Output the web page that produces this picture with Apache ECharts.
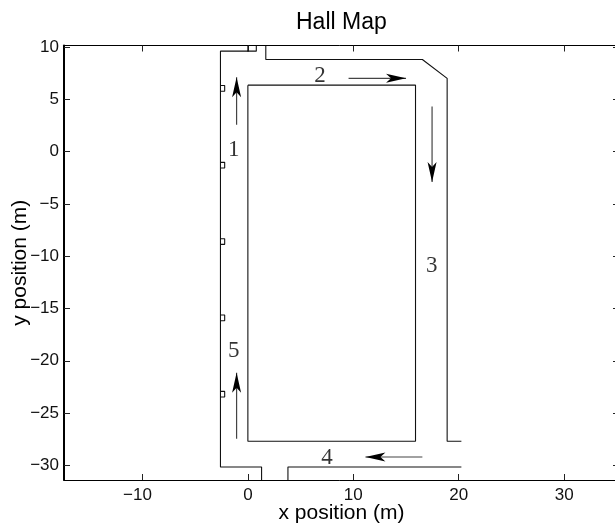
<!DOCTYPE html>
<html><head><meta charset="utf-8">
<style>html,body{margin:0;padding:0;background:#fff;overflow:hidden}#c{width:615px;height:527px}</style>
<script src="https://cdn.jsdelivr.net/npm/echarts@6/dist/echarts.min.js"></script></head>
<body><div id="c"></div>
<script>
const xTicks = [-10, 0, 10, 20, 30];
const yTicks = [-30, -25, -20, -15, -10, -5, 0, 5, 10];
const wallTopLeft = [[0,10.1],[0,9.6],[-2.6,9.6],[-2.6,-30.15],[1.3,-30.15],[1.3,-31.4]];
const wallNotch = [[-0.05,9.6],[0.8,9.6],[0.8,10.1]];
const wallOuter = [[1.7,10.1],[1.7,8.8],[16.55,8.8],[18.9,7.0],[18.9,-27.7],[20.25,-27.7]];
const wallBottom = [[3.8,-31.4],[3.8,-30.15],[20.25,-30.15]];
const wallInner = [[0,6.35],[15.9,6.35],[15.9,-27.7],[0,-27.7],[0,6.35]];
const doorCentres = [6.04,-1.3,-8.6,-15.9,-23.2];
const arrowUp1 = [[-1.07,2.57],[-1.07,7.1]];
const arrowRight2 = [[9.55,7.0],[15.0,7.0]];
const arrowDown3 = [[17.47,4.3],[17.47,-2.9]];
const arrowLeft4 = [[16.55,-29.2],[11.15,-29.2]];
const arrowUp5 = [[-1.07,-27.45],[-1.07,-21.15]];
const segmentLabels = [[-1.35,0.2,'1'],[6.85,7.2,'2'],[17.45,-10.95,'3'],[7.5,-29.25,'4'],[-1.35,-19.05,'5']];
const xRange = [-17.44, 35.2];
const yRange = [-31.4, 10.14];

const fmt = v => String(v).replace('-', '\u2212');
const fmtX = v => v < 0 ? '{n|' + fmt(v) + '}' : String(v);
const chart = echarts.init(document.getElementById('c'), null, {renderer:'canvas'});
const wall = d => ({type:'line', data:d, symbol:'none', silent:true, animation:false,
  lineStyle:{color:'#111', width:1.1}});
const head = 'path://M0 0 L4.5 20 L0 15 L-4.5 20 Z';
const arrow = (d, rot, off) => ({type:'line', silent:true, animation:false,
  lineStyle:{color:'#444', width:1.2},
  data:[{value:d[0], symbol:'none'},
        {value:d[1], symbol:head, symbolSize:[9,20], symbolRotate:rot, symbolOffset:off, itemStyle:{color:'#000'}}]});
const doors = doorCentres.map(c => wall([[-2.6,c+0.27],[-2.2,c+0.27],[-2.2,c-0.27],[-2.6,c-0.27]]));
const axisBase = {
  axisLine:{onZero:false, lineStyle:{color:'#000', width:1}},
  axisTick:{inside:true, length:6, lineStyle:{color:'#222', width:1}},
  splitLine:{show:false}
};
const tickFont = {color:'#111', fontFamily:'Liberation Sans', fontSize:17};
chart.setOption({
  animation:false,
  backgroundColor:'#fff',
  title:{text:'Hall Map', left:296, top:11, padding:0,
    textStyle:{fontFamily:'Liberation Sans', fontSize:23, fontWeight:'normal', color:'#000'}},
  grid:{left:64, top:45.5, width:555, height:434.5, containLabel:false, outerBoundsMode:'none'},
  xAxis:[
    Object.assign({}, axisBase, {type:'value', position:'bottom', min:xRange[0], max:xRange[1],
      axisTick:Object.assign({}, axisBase.axisTick, {customValues:xTicks}),
      axisLabel:Object.assign({customValues:xTicks, formatter:fmtX, margin:7,
        rich:{n:Object.assign({padding:[0,10,0,0]}, tickFont)}}, tickFont),
      name:'x position (m)', nameLocation:'middle', nameGap:23, nameMoveOverlap:false,
      nameTextStyle:{fontFamily:'Liberation Sans', fontSize:21, color:'#000'}}),
    Object.assign({}, axisBase, {type:'value', position:'top', min:xRange[0], max:xRange[1],
      axisTick:Object.assign({}, axisBase.axisTick, {customValues:xTicks}),
      axisLabel:{show:false}})
  ],
  yAxis:[
    Object.assign({}, axisBase, {type:'value', position:'left', min:yRange[0], max:yRange[1],
      axisLine:{onZero:false, lineStyle:{color:'#000', width:2}},
      axisTick:Object.assign({}, axisBase.axisTick, {customValues:yTicks}),
      axisLabel:Object.assign({customValues:yTicks, formatter:fmt, margin:5, padding:[4,0,0,0]}, tickFont),
      name:'y position (m)', nameLocation:'middle', nameGap:33, nameMoveOverlap:false,
      nameTextStyle:{fontFamily:'Liberation Sans', fontSize:21, color:'#000'}}),
    Object.assign({}, axisBase, {type:'value', position:'right', min:yRange[0], max:yRange[1],
      axisTick:Object.assign({}, axisBase.axisTick, {customValues:yTicks}),
      axisLabel:{show:false}})
  ],
  series:[
    wall(wallTopLeft), wall(wallNotch), wall(wallOuter), wall(wallBottom), wall(wallInner),
    ...doors,
    arrow(arrowUp1, 0, [0,10]),
    arrow(arrowRight2, -90, [-10,0]),
    arrow(arrowDown3, 180, [0,-10]),
    arrow(arrowLeft4, 90, [10,0]),
    arrow(arrowUp5, 0, [0,10]),
    {type:'scatter', silent:true, animation:false, symbolSize:0,
      data:segmentLabels.map(l => ({value:[l[0],l[1]], name:l[2]})),
      label:{show:true, position:'inside', formatter:p => p.name,
        fontFamily:'Liberation Serif', fontSize:23, color:'#000'}}
  ]
});
</script></body></html>
